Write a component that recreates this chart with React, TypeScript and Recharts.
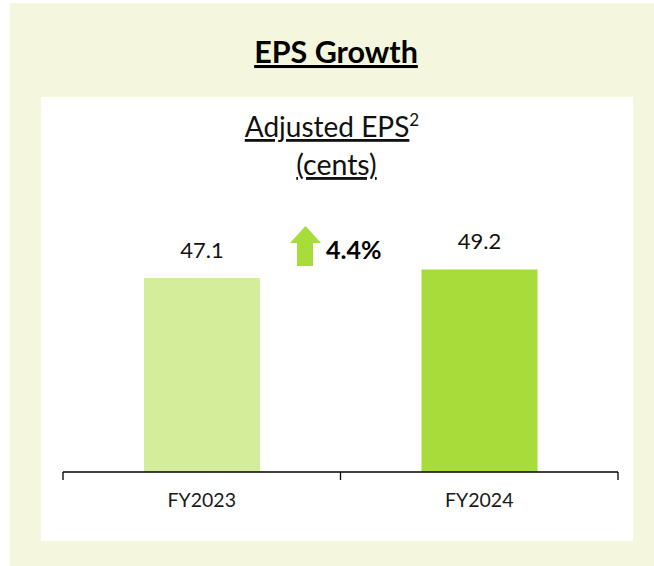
import React from 'react';
import { BarChart, Bar, XAxis, YAxis, LabelList, Cell } from 'recharts';

const categories = ['FY2023', 'FY2024'];
const epsValues = [47.1, 49.2];
const barColors = ['#D3ED9B', '#A6DD3A'];
const growthLabel = '4.4%';
const chartTitle = 'EPS Growth';
const metricTitle = 'Adjusted EPS';
const unitTitle = '(cents)';

const data = categories.map((c, i) => ({ name: c, value: epsValues[i] }));

const FONT = 'Lato, "Open Sans", sans-serif';

const BoundaryTick = (props: any) => {
  const { x, y, payload, index, visibleTicksCount } = props;
  const off = payload && typeof payload.offset === 'number' ? payload.offset : 0;
  const isLast = index === (visibleTicksCount ?? 0) - 1;
  return (
    <g>
      <line x1={x - off} x2={x - off} y1={y} y2={y + 8} stroke="#000" strokeWidth={1.3} />
      {isLast && <line x1={x + off} x2={x + off} y1={y} y2={y + 8} stroke="#000" strokeWidth={1.3} />}
      <text x={x} y={y + 35} textAnchor="middle" fill="#1a1a1a" fontSize={19.5} fontFamily={FONT}>
        {payload.value}
      </text>
    </g>
  );
};

export default function App() {
  return (
    <div style={{ position: 'absolute', left: 0, top: 0, width: 654, height: 566, background: '#fff', fontFamily: FONT }}>
      <div style={{ position: 'absolute', left: 10, top: 3, width: 644, height: 563, background: '#F4F7DE' }} />
      <div style={{ position: 'absolute', left: 41, top: 97, width: 592, height: 444, background: '#FFFFFF' }} />
      <div style={{ position: 'absolute', left: 0, top: 0 }}>
        <BarChart width={654} height={566} data={data} margin={{ top: 225, right: 36, bottom: 64, left: 63 }}>
          <YAxis hide domain={[0, 60]} width={0} />
          <XAxis
            dataKey="name"
            height={30}
            axisLine={{ stroke: '#000', strokeWidth: 1.3 }}
            tickLine={false}
            tickSize={0}
            tickMargin={0}
            tick={<BoundaryTick />}
          />
          <Bar dataKey="value" barSize={116} isAnimationActive={false}>
            {data.map((d, i) => (
              <Cell key={d.name} fill={barColors[i]} />
            ))}
            <LabelList dataKey="value" position="top" offset={20} fill="#111" fontSize={22} fontFamily={FONT} />
          </Bar>
        </BarChart>
      </div>
      <svg width={654} height={566} style={{ position: 'absolute', left: 0, top: 0, pointerEvents: 'none' }}>
        <text x={336} y={63} textAnchor="middle" fontSize={30.5} fontWeight={700} fill="#000" fontFamily={FONT} textDecoration="underline">
          {chartTitle}
        </text>
        <text x={332} y={137} textAnchor="middle" fontSize={28} fill="#111" fontFamily={FONT}>
          <tspan textDecoration="underline">{metricTitle}</tspan>
          <tspan fontSize={17} dy={-11}>2</tspan>
        </text>
        <text x={336.5} y={175} textAnchor="middle" fontSize={28.5} fill="#111" fontFamily={FONT} textDecoration="underline">
          {unitTitle}
        </text>
        <polygon points="290,243 305.5,226 321,243 313,243 313,266 297,266 297,243" fill="#A6DD3A" />
        <text x={326} y={259} fontSize={25} fontWeight={700} fill="#000" fontFamily={FONT}>
          {growthLabel}
        </text>
      </svg>
    </div>
  );
}
